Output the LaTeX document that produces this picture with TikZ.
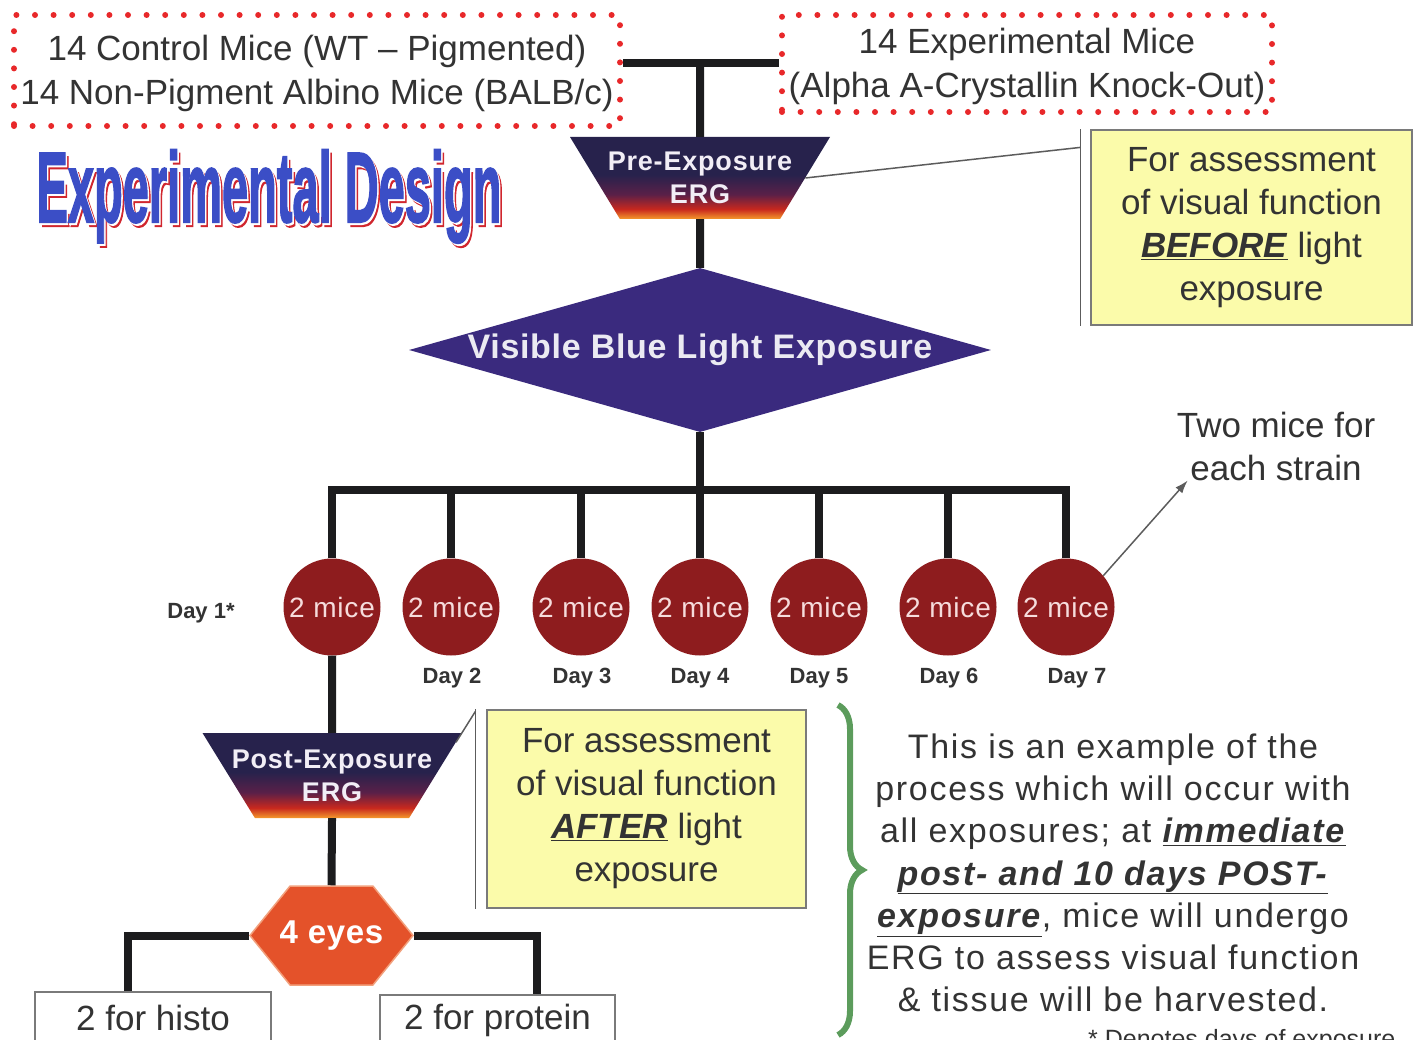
\documentclass[tikz,border=0pt]{standalone}
\usepackage{fontspec}
\setmainfont{Liberation Sans}
\newfontfamily\titlefont[FakeBold=2]{Liberation Sans}
\usetikzlibrary{positioning,arrows.meta,shapes.geometric,shapes.symbols,decorations.pathreplacing}

\newcommand{\fsz}[2]{\fontsize{#1}{#2}\selectfont}

\definecolor{textgray}{HTML}{333333}
\definecolor{dotred}{HTML}{E8282A}
\definecolor{linecol}{HTML}{1C1C1E}
\definecolor{titleblue}{HTML}{3B4EC6}
\definecolor{titlered}{HTML}{D0262E}
\definecolor{ergnavy}{HTML}{27224C}
\definecolor{ergwine}{HTML}{5A2048}
\definecolor{ergred}{HTML}{C8281E}
\definecolor{ergorange}{HTML}{F59A2C}
\definecolor{ergtext}{HTML}{F2EEF6}
\definecolor{vblindigo}{HTML}{3A2A7E}
\definecolor{micered}{HTML}{8E1C1E}
\definecolor{micetext}{HTML}{F6DCDC}
\definecolor{eyeorange}{HTML}{E4522A}
\definecolor{eyeedge}{HTML}{F2A07C}
\definecolor{noteyellow}{HTML}{FBFBAA}
\definecolor{boxgray}{HTML}{7A7A7A}
\definecolor{bracegreen}{HTML}{5C9C5C}

\pgfdeclareverticalshading{ergshade}{100bp}{color(0bp)=(ergorange); color(25bp)=(ergorange); color(31bp)=(ergred); color(40bp)=(ergwine); color(52bp)=(ergnavy); color(100bp)=(ergnavy)}

\begin{document}
\begin{tikzpicture}[x=1pt, y=-1pt,
    every node/.style={text=textgray},
    dotbox/.style={draw=dotred, line width=6, dash pattern=on 0pt off 18.6pt, line cap=round, align=center, inner sep=0pt, font=\fsz{35}{44}},
    titletext/.style={anchor=base, inner sep=0pt, font=\titlefont\bfseries\fsz{100}{100}},
    ergbox/.style={trapezium, shape border rotate=180, trapezium angle=58, trapezium stretches body=true, minimum width=260, minimum height=82, inner xsep=-24pt, inner ysep=14pt, shade, shading=ergshade, text=ergtext, align=center, font=\bfseries\fsz{27}{33}\addfontfeature{LetterSpace=3}},
    lightdiamond/.style={diamond, aspect=3.55, minimum width=582, minimum height=164, inner sep=0pt, fill=vblindigo, text=white!90!vblindigo, font=\bfseries\fsz{34}{36}\addfontfeature{LetterSpace=2}},
    mice/.style={circle, minimum size=97, inner sep=0pt, fill=micered, text=micetext, font=\fsz{28}{30}\addfontfeature{LetterSpace=3}},
    daylabel/.style={font=\bfseries\fsz{22}{24}},
    notebox/.style={draw=boxgray, line width=1.2, fill=noteyellow, align=center, inner sep=0pt, font=\fsz{35}{43}},
    eyebox/.style={signal, signal to=east and west, signal pointer angle=102, minimum width=163, minimum height=99, inner xsep=-12pt, inner ysep=0pt, fill=eyeorange, draw=eyeedge, line width=1.5, text=white, font=\bfseries\fsz{33}{35}\addfontfeature{LetterSpace=2}},
    samplebox/.style={draw=boxgray, line width=1.2, fill=white, inner sep=0pt, font=\fsz{35}{40}},
    bar/.style={draw=linecol, line width=8},
    leader/.style={draw=textgray!80, line width=1.5},
    greenbrace/.style={draw=bracegreen, line width=6, decorate, decoration={brace, amplitude=24pt}}
]
\useasboundingbox (0,0) rectangle (1424,1040);
\clip (0,0) rectangle (1424,1040);

% Mouse groups
\node[dotbox, minimum width=606, minimum height=111] (ctrl) at (317,70.5) {\rule{0pt}{31.5pt}14 Control Mice (WT -- Pigmented)\\14 Non-Pigment Albino Mice (BALB/c)};
\node[dotbox, minimum width=490, minimum height=97] (expt) at (1027,63.5) {\rule{0pt}{32pt}14 Experimental Mice\\(Alpha A-Crystallin Knock-Out)};

% Title
\node[titletext, text=titlered] (titleshadow) at (272,226) {\scalebox{0.47}[1]{Experimental Design}};
\node[titletext, text=white] (titleedge) at (270.5,224) {\scalebox{0.47}[1]{Experimental Design}};
\node[titletext, text=titleblue] (title) at (269,222) {\scalebox{0.47}[1]{Experimental Design}};

% Exposure flow
\coordinate (top) at (700,63);
\node[ergbox] (pre) at (700,178) {Pre-Exposure\\ERG};
\node[lightdiamond] (vbl) at (700,350) {Visible Blue Light Exposure};
\coordinate (split) at (700,490);

\foreach \x/\lx [count=\i] in {332/332, 451/452, 581/582, 700/700, 819/819, 948/949, 1066/1077}{
  \node[mice] (m\i) at (\x,607) {2 mice};
  \ifnum\i>1 \node[daylabel] (day\i) at (\lx,678) {Day \i}; \fi
}
\node[daylabel] (day1) at (201,613) {Day 1*};

\draw[bar] (ctrl.east |- top) -- (expt.west |- top);
\draw[bar] (top) -- (pre.north);
\draw[bar] (pre.south) -- (vbl.north);
\draw[bar] (vbl.south) -- (split);
\draw[bar] (m1.north) |- (split);
\draw[bar] (m7.north) |- (split);
\foreach \i in {2,...,6} \draw[bar] (m\i.north) -- (m\i.north |- split);

% Before note
\node[notebox, minimum width=321, minimum height=195] (before) at (1251.5,227.5) {For assessment\\of visual function\\\underline{\textbf{\textit{BEFORE}}} light\\exposure};
\draw[leader] (pre.east) -- ([xshift=-10pt,yshift=-18pt]before.north west);
\draw[leader] ([xshift=-10pt]before.north west) -- ([xshift=-10pt]before.south west);

% Two mice note
\node[font=\fsz{35}{43}, align=center, inner sep=0pt] (twomice) at (1276,446) {Two mice for\\each strain};
\draw[leader, -{Latex[length=13pt,width=9pt]}] (m7.40) -- ([xshift=11pt]twomice.south west);

% Post-exposure branch
\node[ergbox, minimum height=85, minimum width=259, inner ysep=16pt] (post) at (332,775.5) {Post-Exposure\\ERG};
\node[eyebox] (eyes) at (331.5,935.5) {4 eyes};
\node[samplebox, minimum width=236, minimum height=52] (histo) at (153,1018) {2 for histo};
\node[samplebox, minimum width=235, minimum height=50] (protein) at (497.5,1020) {2 for protein};
\draw[bar] (m1.south) -- (post.north);
\draw[bar] (post.south) -- (eyes.north);
\draw[bar] (eyes.west) -| ([xshift=-25pt]histo.north);
\draw[bar] (eyes.east) -| ([xshift=39.5pt]protein.north);

% After note
\node[notebox, minimum width=319, minimum height=198] (after) at (646.5,809) {For assessment\\of visual function\\\underline{\textbf{\textit{AFTER}}} light\\exposure};
\draw[leader] (post.15) -- ([xshift=-11pt,yshift=-2pt]after.north west);
\draw[leader] ([xshift=-11pt]after.north west) -- ([xshift=-11pt]after.south west);

% Process note
\draw[greenbrace] (838,705) -- (838,1035);
\node[align=center, inner sep=0pt, font=\fsz{34}{42.2}\addfontfeature{LetterSpace=5}] (process) at (1113,873) {This is an example of the\\process which will occur with\\all exposures; at \underline{\textbf{\textit{immediate}}}\\\underline{\textbf{\textit{post- and 10 days POST-}}}\\\underline{\textbf{\textit{exposure}}}, mice will undergo\\ERG to assess visual function\\\& tissue will be harvested.};
\node[anchor=base west, inner sep=0pt, font=\fsz{25}{28}] (footnote) at (1088,1047) {* Denotes days of exposure};
\end{tikzpicture}
\end{document}
